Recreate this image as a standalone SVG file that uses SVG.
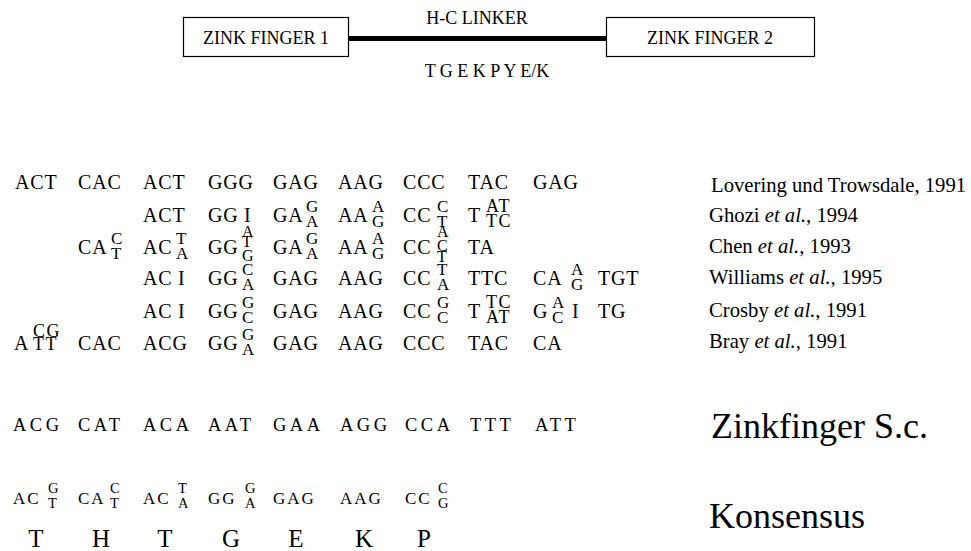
<svg xmlns="http://www.w3.org/2000/svg" width="971" height="551" viewBox="0 0 971 551">
  <style>
    text { font-family: "Liberation Serif", "Times New Roman", serif; fill: #000; }
    .box { fill: #fff; stroke: #000; stroke-width: 1.2; }
    .hd { font-size: 18px; }
    .seq { font-size: 20px; letter-spacing: 0.8px; }
    .sm { font-size: 17px; }
    .pair { font-size: 18px; letter-spacing: 1.5px; }
    .tri { font-size: 16px; }
    .ref { font-size: 20.7px; }
    .sc { font-size: 18.5px; letter-spacing: 3.5px; }
    .kn { font-size: 17px; letter-spacing: 2px; }
    .ks { font-size: 14.5px; }
    .aa { font-size: 25px; text-anchor: middle; }
    .big { font-size: 36px; }
  </style>
  <rect width="971" height="551" fill="#fff"/>

  <!-- domain layout: two zinc fingers joined by the H-C linker -->
  <g id="connectors">
    <line x1="349" y1="38.5" x2="606" y2="38.5" stroke="#000" stroke-width="5"/>
  </g>
  <g id="zf1">
    <rect class="box" x="183.5" y="17.5" width="165" height="39"/>
    <text class="hd" x="266" y="44" text-anchor="middle">ZINK FINGER 1</text>
  </g>
  <g id="zf2">
    <rect class="box" x="606.5" y="17.5" width="208" height="39"/>
    <text class="hd" x="710" y="44" text-anchor="middle">ZINK FINGER 2</text>
  </g>
  <g id="linker">
    <text class="hd" x="477" y="24" text-anchor="middle">H-C LINKER</text>
    <text class="hd" x="487" y="77" text-anchor="middle">T G E K P Y E/K</text>
  </g>

  <!-- Lovering und Trowsdale -->
  <g id="row1" class="seq">
    <text x="15" y="189">ACT</text><text x="78" y="189">CAC</text><text x="143" y="189">ACT</text>
    <text x="208" y="189">GGG</text><text x="273" y="189">GAG</text><text x="338" y="189">AAG</text>
    <text x="403" y="189">CCC</text><text x="468" y="189">TAC</text><text x="533" y="189">GAG</text>
  </g>

  <!-- Ghozi -->
  <g id="row2">
    <g class="seq">
      <text x="143" y="222">ACT</text><text x="208" y="222">GG</text><text x="244" y="222">I</text>
      <text x="273" y="222">GA</text><text x="338" y="222">AA</text><text x="403" y="222">CC</text>
      <text x="468" y="222">T</text>
    </g>
    <g class="sm">
      <text x="306" y="212">G</text><text x="306" y="227">A</text>
      <text x="372" y="212">A</text><text x="372" y="227">G</text>
      <text x="437" y="212">C</text><text x="437" y="227">T</text>
    </g>
    <g class="pair">
      <text x="486" y="212">AT</text><text x="486" y="227">TC</text>
    </g>
  </g>

  <!-- Chen -->
  <g id="row3">
    <g class="seq">
      <text x="78" y="254">CA</text><text x="143" y="254">AC</text><text x="208" y="254">GG</text>
      <text x="273" y="254">GA</text><text x="338" y="254">AA</text><text x="403" y="254">CC</text>
      <text x="468" y="254">TA</text>
    </g>
    <g class="sm">
      <text x="111" y="244">C</text><text x="111" y="259">T</text>
      <text x="176" y="244">T</text><text x="176" y="259">A</text>
      <text x="306" y="244">G</text><text x="306" y="259">A</text>
      <text x="372" y="244">A</text><text x="372" y="259">G</text>
    </g>
    <g class="tri">
      <text x="242" y="237">A</text><text x="242" y="247">T</text><text x="242" y="261">G</text>
      <text x="437" y="237">A</text><text x="437" y="251">C</text><text x="437" y="262">T</text>
    </g>
  </g>

  <!-- Williams -->
  <g id="row4">
    <g class="seq">
      <text x="143" y="285">AC</text><text x="178" y="285">I</text><text x="208" y="285">GG</text>
      <text x="273" y="285">GAG</text><text x="338" y="285">AAG</text><text x="403" y="285">CC</text>
      <text x="468" y="285">TTC</text><text x="533" y="285">CA</text><text x="598" y="285">TGT</text>
    </g>
    <g class="sm">
      <text x="242" y="275">C</text><text x="242" y="290">A</text>
      <text x="437" y="275">T</text><text x="437" y="290">A</text>
      <text x="571" y="275">A</text><text x="571" y="290">G</text>
    </g>
  </g>

  <!-- Crosby -->
  <g id="row5">
    <g class="seq">
      <text x="143" y="318">AC</text><text x="178" y="318">I</text><text x="208" y="318">GG</text>
      <text x="273" y="318">GAG</text><text x="338" y="318">AAG</text><text x="403" y="318">CC</text>
      <text x="468" y="318">T</text><text x="533" y="318">G</text><text x="572" y="318">I</text>
      <text x="598" y="318">TG</text>
    </g>
    <g class="sm">
      <text x="242" y="308">G</text><text x="242" y="323">C</text>
      <text x="437" y="308">G</text><text x="437" y="323">C</text>
      <text x="552" y="308">A</text><text x="552" y="323">C</text>
    </g>
    <g class="pair">
      <text x="486" y="308">TC</text><text x="486" y="323">AT</text>
    </g>
  </g>

  <!-- Bray -->
  <g id="row6">
    <g class="seq">
      <text x="14" y="350">A</text><text x="78" y="350">CAC</text><text x="143" y="350">ACG</text>
      <text x="208" y="350">GG</text><text x="273" y="350">GAG</text><text x="338" y="350">AAG</text>
      <text x="403" y="350">CCC</text><text x="468" y="350">TAC</text><text x="533" y="350">CA</text>
    </g>
    <g class="pair">
      <text x="33" y="337">CG</text><text x="33" y="350">TT</text>
    </g>
    <g class="sm">
      <text x="242" y="340">G</text><text x="242" y="355">A</text>
    </g>
  </g>

  <!-- references -->
  <g id="refs" class="ref">
    <text x="711" y="192">Lovering und Trowsdale, 1991</text>
    <text x="709" y="222">Ghozi <tspan font-style="italic">et al.</tspan>, 1994</text>
    <text x="709" y="253">Chen <tspan font-style="italic">et al.</tspan>, 1993</text>
    <text x="709" y="284">Williams <tspan font-style="italic">et al.</tspan>, 1995</text>
    <text x="709" y="317">Crosby <tspan font-style="italic">et al.</tspan>, 1991</text>
    <text x="709" y="348">Bray <tspan font-style="italic">et al.</tspan>, 1991</text>
  </g>

  <!-- yeast zinc finger -->
  <g id="row7" class="sc">
    <text x="13" y="431">ACG</text><text x="78" y="431">CAT</text><text x="143" y="431">ACA</text>
    <text x="208" y="431">AAT</text><text x="273" y="431">GAA</text><text x="340" y="431">AGG</text>
    <text x="405" y="431">CCA</text><text x="470" y="431">TTT</text><text x="535" y="431">ATT</text>
  </g>
  <text class="big" x="711" y="438">Zinkfinger S.c.</text>

  <!-- consensus -->
  <g id="row8">
    <g class="kn">
      <text x="13" y="504">AC</text><text x="78" y="504">CA</text><text x="143" y="504">AC</text>
      <text x="208" y="504">GG</text><text x="273" y="504">GAG</text><text x="340" y="504">AAG</text>
      <text x="405" y="504">CC</text>
    </g>
    <g class="ks">
      <text x="48" y="493">G</text><text x="48" y="508">T</text>
      <text x="110" y="493">C</text><text x="110" y="508">T</text>
      <text x="178" y="493">T</text><text x="178" y="508">A</text>
      <text x="245" y="493">G</text><text x="245" y="508">A</text>
      <text x="438" y="493">C</text><text x="438" y="508">G</text>
    </g>
  </g>
  <g id="row9" class="aa">
    <text x="36" y="547">T</text><text x="101" y="547">H</text><text x="165" y="547">T</text>
    <text x="231" y="547">G</text><text x="296" y="547">E</text><text x="364" y="547">K</text>
    <text x="424" y="547">P</text>
  </g>
  <text class="big" x="709" y="528" font-size="35.5">Konsensus</text>
</svg>
